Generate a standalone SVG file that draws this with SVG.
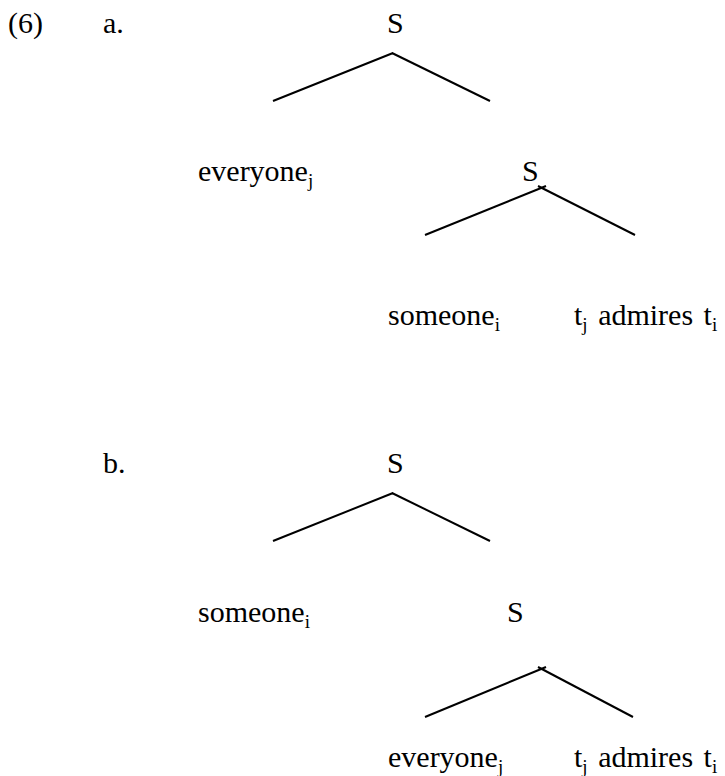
<svg xmlns="http://www.w3.org/2000/svg" width="725" height="776" viewBox="0 0 725 776">
<style>
text{font-family:"Liberation Serif","Times New Roman",Times,serif;font-size:30px;fill:#000}
.sub{font-size:19px}
.tr{word-spacing:3px}
line{stroke:#000;stroke-width:2}
</style>
<rect width="725" height="776" fill="#fff"/>
<g id="label-6"><text x="8" y="33">(6)</text></g>
<g id="label-a"><text x="103" y="33">a.</text></g>
<g id="a-S1"><text x="387" y="33">S</text></g>
<g id="a-everyone"><text x="198" y="181">everyone<tspan class="sub" dy="6">j</tspan></text></g>
<g id="a-S2"><text x="522" y="181">S</text></g>
<g id="a-someone"><text x="388" y="325">someone<tspan class="sub" dy="6">i</tspan></text></g>
<g id="a-admires"><text class="tr" x="574" y="325">t<tspan class="sub" dy="6">j</tspan><tspan dy="-6"> admires t</tspan><tspan class="sub" dy="6">i</tspan></text></g>
<g id="label-b"><text x="103" y="473">b.</text></g>
<g id="b-S1"><text x="387" y="473">S</text></g>
<g id="b-someone"><text x="198" y="622">someone<tspan class="sub" dy="6">i</tspan></text></g>
<g id="b-S2"><text x="507" y="622">S</text></g>
<g id="b-everyone"><text x="388" y="767">everyone<tspan class="sub" dy="6">j</tspan></text></g>
<g id="b-admires"><text class="tr" x="574" y="767">t<tspan class="sub" dy="6">j</tspan><tspan dy="-6"> admires t</tspan><tspan class="sub" dy="6">i</tspan></text></g>
<g id="connectors">
<line x1="273" y1="101" x2="393" y2="53"/>
<line x1="392" y1="53" x2="490" y2="101"/>
<line x1="425" y1="235" x2="546" y2="186"/>
<line x1="538" y1="186" x2="635" y2="235"/>
<line x1="273" y1="541" x2="393" y2="493"/>
<line x1="392" y1="493" x2="490" y2="541"/>
<line x1="425" y1="717" x2="546" y2="667"/>
<line x1="538" y1="667" x2="633" y2="717"/>
</g>
</svg>
